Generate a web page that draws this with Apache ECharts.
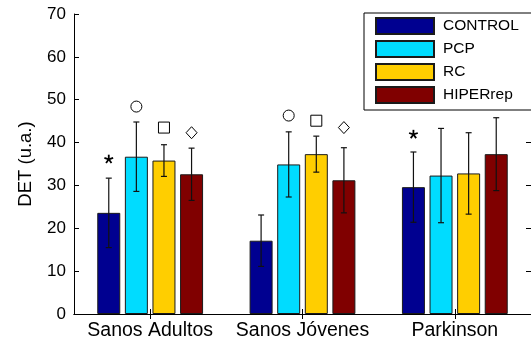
<!DOCTYPE html>
<html>
<head>
<meta charset="utf-8">
<script src="https://cdn.jsdelivr.net/npm/echarts@6/dist/echarts.min.js"></script>
<style>
html,body{margin:0;padding:0;background:#fff;}
#chart{width:531px;height:343px;}
</style>
</head>
<body>
<div id="chart"></div>
<script>
// ---- data ----
const categories = ['Sanos Adultos', 'Sanos Jóvenes', 'Parkinson'];
const seriesNames = ['CONTROL', 'PCP', 'RC', 'HIPERrep'];
const controlVals = [23.6, 17.1, 29.6];
const controlErr  = [8.1, 6.0, 8.2];
const pcpVals     = [36.7, 34.9, 32.3];
const pcpErr      = [8.1, 7.6, 11.0];
const rcVals      = [35.8, 37.3, 32.8];
const rcErr       = [3.7, 4.2, 9.5];
const hiperVals   = [32.6, 31.2, 37.3];
const hiperErr    = [6.1, 7.6, 8.5];
const yTicks = [0, 10, 20, 30, 40, 50, 60, 70];
// significance markers: [categoryIndex, seriesIndex, value, markerTypeIndex]
const markerTypes = ['star', 'circle', 'square', 'diamond'];
const markers = [
  [0, 0, 36.1, 0],
  [2, 0, 41.9, 0],
  [0, 1, 48.4, 1],
  [1, 1, 46.3, 1],
  [0, 2, 43.5, 2],
  [1, 2, 45.1, 2],
  [0, 3, 42.3, 3],
  [1, 3, 43.5, 3]
];

// ---- style ----
const colors = ['#000090', '#00DCFF', '#FFCE00', '#800000'];
const FONT = 'Liberation Sans, Arial, Helvetica, sans-serif';
const BAR_W = 23;
const BAR_GAP = 0.2;
const STEP = BAR_W * (1 + BAR_GAP);

const allVals = [controlVals, pcpVals, rcVals, hiperVals];
const allErr = [controlErr, pcpErr, rcErr, hiperErr];

const errData = [];
allVals.forEach((vals, s) => vals.forEach((v, c) => errData.push([c, s, v, allErr[s][c]])));

const barSeries = seriesNames.map((n, s) => ({
  type: 'bar',
  name: n,
  data: allVals[s],
  barWidth: BAR_W,
  barGap: (BAR_GAP * 100) + '%',
  itemStyle: { color: colors[s], borderColor: '#1a1a1a', borderWidth: 1 },
  emphasis: { disabled: true },
  z: 2
}));

function offsetX(api, c, s) {
  return api.coord([c, 0])[0] + (s - 1.5) * STEP;
}

const errSeries = {
  type: 'custom',
  data: errData,
  encode: { x: 0, y: 2 },
  z: 5,
  silent: true,
  renderItem: function (params, api) {
    const c = api.value(0), s = api.value(1), m = api.value(2), e = api.value(3);
    const x = offsetX(api, c, s);
    const yt = api.coord([c, m + e])[1];
    const yb = api.coord([c, m - e])[1];
    const st = { stroke: '#111', lineWidth: 1.2 };
    return {
      type: 'group',
      children: [
        { type: 'line', shape: { x1: x, y1: yt, x2: x, y2: yb }, style: st },
        { type: 'line', shape: { x1: x - 3, y1: yt, x2: x + 3, y2: yt }, style: st },
        { type: 'line', shape: { x1: x - 3, y1: yb, x2: x + 3, y2: yb }, style: st }
      ]
    };
  }
};

const markerSeries = {
  type: 'custom',
  data: markers,
  encode: { x: 0, y: 2 },
  z: 6,
  silent: true,
  renderItem: function (params, api) {
    const c = api.value(0), s = api.value(1), v = api.value(2), t = markerTypes[api.value(3)];
    const x = offsetX(api, c, s);
    const y = api.coord([c, v])[1];
    const st = { stroke: '#000', lineWidth: 1, fill: '#fff' };
    if (t === 'circle') {
      return { type: 'circle', shape: { cx: x, cy: y, r: 5.5 }, style: st };
    } else if (t === 'square') {
      return { type: 'rect', shape: { x: x - 5.5, y: y - 5.5, width: 11, height: 11 }, style: st };
    } else if (t === 'diamond') {
      return { type: 'polygon', shape: { points: [[x, y - 6], [x + 5.5, y], [x, y + 6], [x - 5.5, y]] }, style: st };
    }
    // star (asterisk)
    const ch = [];
    for (let k = 0; k < 5; k++) {
      const a = (-90 + k * 72) * Math.PI / 180;
      ch.push({ type: 'line', shape: { x1: x, y1: y, x2: x + 4.6 * Math.cos(a), y2: y + 4.6 * Math.sin(a) }, style: { stroke: '#000', lineWidth: 1.8 } });
    }
    return { type: 'group', children: ch };
  }
};

const chart = echarts.init(document.getElementById('chart'), null, { renderer: 'canvas' });
chart.setOption({
  animation: false,
  backgroundColor: '#fff',
  textStyle: { fontFamily: FONT },
  grid: { left: 74, top: 14, width: 460, height: 300, containLabel: false },
  legend: {
    data: seriesNames,
    orient: 'vertical',
    left: 364,
    top: 13,
    itemWidth: 58,
    itemHeight: 16,
    itemGap: 5,
    padding: [4, 40, 6, 11],
    backgroundColor: '#fff',
    borderColor: '#000',
    borderWidth: 1,
    borderRadius: 0,
    icon: 'rect',
    selectedMode: false,
    textStyle: { fontSize: 15.5, color: '#000', fontFamily: FONT, padding: [0, 0, 0, 4] },
    z: 20
  },
  xAxis: [
    {
      type: 'category', data: categories, position: 'bottom',
      axisLine: { show: true, lineStyle: { color: '#000', width: 1 } },
      axisTick: { show: true, inside: true, alignWithLabel: true, length: 5, lineStyle: { color: '#000' } },
      axisLabel: { color: '#000', fontSize: 19.5, margin: 7, interval: 0, hideOverlap: false, fontFamily: FONT },
      splitLine: { show: false }
    },
    {
      type: 'category', data: categories, position: 'top',
      axisLine: { show: true, lineStyle: { color: '#000', width: 1 } },
      axisTick: { show: true, inside: true, alignWithLabel: true, length: 5, lineStyle: { color: '#000' } },
      axisLabel: { show: false },
      splitLine: { show: false }
    }
  ],
  yAxis: [
    {
      type: 'value', min: yTicks[0], max: yTicks[yTicks.length - 1], interval: 10,
      name: 'DET (u.a.)', nameLocation: 'middle', nameGap: 39, nameRotate: 90,
      nameTextStyle: { fontSize: 18.5, color: '#000', fontFamily: FONT },
      axisLine: { show: true, lineStyle: { color: '#000', width: 1 } },
      axisTick: { show: true, inside: true, length: 5, lineStyle: { color: '#000' } },
      axisLabel: { color: '#000', fontSize: 17, margin: 8, fontFamily: FONT },
      splitLine: { show: false }
    },
    {
      type: 'value', min: yTicks[0], max: yTicks[yTicks.length - 1], interval: 10, position: 'right',
      axisLine: { show: true, lineStyle: { color: '#000', width: 1 } },
      axisTick: { show: true, inside: true, length: 5, lineStyle: { color: '#000' } },
      axisLabel: { show: false },
      splitLine: { show: false }
    }
  ],
  series: [...barSeries, errSeries, markerSeries]
});
</script>
</body>
</html>
